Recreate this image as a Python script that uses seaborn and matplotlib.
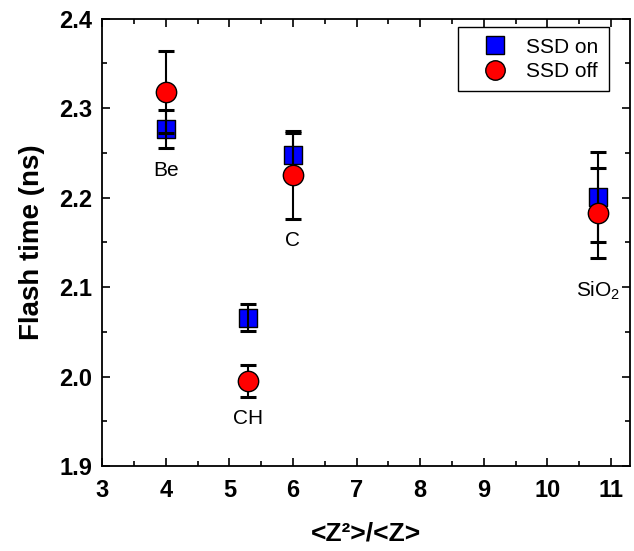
import numpy as np
import pandas as pd
import matplotlib
matplotlib.use("Agg")
import matplotlib.pyplot as plt
import seaborn as sns
from matplotlib.lines import Line2D
from matplotlib.ticker import MultipleLocator

# ---- data ----
materials = ["Be", "CH", "C", "SiO$_2$"]
z_ratio = [4.0, 5.3, 6.0, 10.8]
ssd_on = [2.277, 2.066, 2.248, 2.201]
ssd_on_err = [0.021, 0.015, 0.024, 0.050]
ssd_off = [2.318, 1.995, 2.225, 2.183]
ssd_off_err = [0.046, 0.018, 0.049, 0.050]
label_y = [2.230, 1.953, 2.152, 2.096]

sns.set_style("ticks")
plt.rcParams["font.family"] = ["Liberation Sans", "DejaVu Sans"]
plt.rcParams["mathtext.fontset"] = "custom"
plt.rcParams["mathtext.rm"] = "Liberation Sans"
plt.rcParams["mathtext.it"] = "Liberation Sans:italic"
plt.rcParams["mathtext.bf"] = "Liberation Sans:bold"
for k in ["text.color", "axes.labelcolor", "xtick.color", "ytick.color",
          "xtick.labelcolor", "ytick.labelcolor", "axes.edgecolor"]:
    plt.rcParams[k] = "black"

df_on = pd.DataFrame({"x": z_ratio, "y": ssd_on, "series": "SSD on"})
df_off = pd.DataFrame({"x": z_ratio, "y": ssd_off, "series": "SSD off"})

fig = plt.figure(figsize=(6.34, 5.51), dpi=100)
ax = fig.add_axes([0.161, 0.154, 0.833, 0.812])

sns.scatterplot(data=df_on, x="x", y="y", marker="s", s=175, color="#0000ff",
                edgecolor="black", linewidth=1.0, ax=ax, zorder=2, legend=False)
ax.errorbar(z_ratio, ssd_on, yerr=ssd_on_err, fmt="none", ecolor="black",
            elinewidth=1.5, capsize=5.5, capthick=2.2, zorder=3)
ax.errorbar(z_ratio, ssd_off, yerr=ssd_off_err, fmt="none", ecolor="black",
            elinewidth=1.5, capsize=5.5, capthick=2.2, zorder=3)
sns.scatterplot(data=df_off, x="x", y="y", marker="o", s=215, color="#ff0000",
                edgecolor="black", linewidth=1.0, ax=ax, zorder=4, legend=False)

for name, xv, yv in zip(materials, z_ratio, label_y):
    ax.text(xv, yv, name, ha="center", va="center", fontsize=15)

ax.set_xlim(3, 11.3)
ax.set_ylim(1.9, 2.4)
ax.xaxis.set_major_locator(MultipleLocator(1))
ax.xaxis.set_minor_locator(MultipleLocator(0.5))
ax.yaxis.set_major_locator(MultipleLocator(0.1))
ax.yaxis.set_minor_locator(MultipleLocator(0.05))
ax.yaxis.set_major_formatter(matplotlib.ticker.FormatStrFormatter("%.1f"))
ax.tick_params(which="both", direction="in", top=True, right=True, width=1.2)
ax.tick_params(which="major", length=6, labelsize=17)
ax.tick_params(axis="x", which="major", pad=9)
ax.tick_params(axis="y", which="major", pad=7)
ax.tick_params(which="minor", length=3.5)
for lab in ax.get_xticklabels() + ax.get_yticklabels():
    lab.set_fontweight("bold")
for sp in ax.spines.values():
    sp.set_linewidth(1.3)
    sp.set_color("black")

ax.set_xlabel("<Z²>/<Z>", fontsize=19, fontweight="bold", labelpad=14)
ax.set_ylabel("Flash time (ns)", fontsize=20, fontweight="bold", labelpad=10)

handles = [
    Line2D([], [], marker="s", color="none", markerfacecolor="#0000ff",
           markeredgecolor="black", markersize=13, label="SSD on"),
    Line2D([], [], marker="o", color="none", markerfacecolor="#ff0000",
           markeredgecolor="black", markersize=14, label="SSD off"),
]
leg = ax.legend(handles=handles, loc="upper right", bbox_to_anchor=(0.960, 0.981),
                fontsize=15, frameon=True, fancybox=False, edgecolor="black",
                framealpha=1, handlelength=2.6, handletextpad=0.2, borderpad=0.5,
                labelspacing=0.25, borderaxespad=0.0)
leg.get_frame().set_linewidth(1.0)

fig.savefig("out.png", dpi=100)
